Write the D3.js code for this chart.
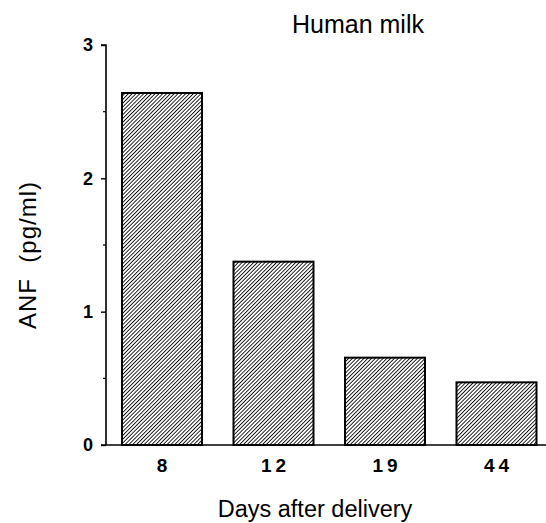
<!DOCTYPE html>
<html>
<head>
<meta charset="utf-8">
<script src="https://cdn.jsdelivr.net/npm/d3@7"></script>
<style>
  html, body { margin: 0; padding: 0; background: #fff; }
  svg { display: block; }
</style>
</head>
<body>
<svg id="chart" width="546" height="523"></svg>
<script>
const categories = ["8", "12", "19", "44"];
const values = [2.64, 1.375, 0.655, 0.47];
const majorTicks = [0, 1, 2, 3];
const minorTicks = [0.5, 1.5, 2.5];
const title = "Human milk";
const xTitle = "Days after delivery";
const yTitle = "ANF  (pg/ml)";

const svg = d3.select("#chart");
const W = 546, H = 523;
const FONT = "Liberation Sans, Arial, Helvetica, sans-serif";

const y = d3.scaleLinear().domain([0, 3]).range([445, 45]);
const x = d3.scaleBand().domain(categories).range([106, 552.5])
  .paddingInner(0.2825).paddingOuter(0.1435);

// hatch pattern
const defs = svg.append("defs");
const P = 2.7;
const pat = defs.append("pattern")
  .attr("id", "hatch").attr("patternUnits", "userSpaceOnUse")
  .attr("width", P).attr("height", P)
  .attr("patternTransform", "rotate(45)");
pat.append("rect").attr("width", P).attr("height", P).attr("fill", "#fff");
pat.append("line").attr("x1", 0).attr("y1", 0).attr("x2", 0).attr("y2", P)
  .attr("stroke", "#000").attr("stroke-width", 1.7);

// bars
svg.append("g").selectAll("rect").data(values).join("rect")
  .attr("x", (d, i) => x(categories[i]))
  .attr("width", x.bandwidth())
  .attr("y", d => y(d))
  .attr("height", d => y(0) - y(d))
  .attr("fill", "url(#hatch)")
  .attr("stroke", "#000").attr("stroke-width", 2);

// y axis
const yAxis = d3.axisLeft(y).tickValues(majorTicks).tickSize(5).tickPadding(8)
  .tickFormat(d3.format("d"));
const gy = svg.append("g").attr("transform", "translate(106,0)").call(yAxis);
gy.select(".domain").attr("d", `M-5,${y(3)}H0V${y(0)}`).attr("stroke", "#000").attr("stroke-width", 1.6);
gy.selectAll(".tick line").attr("stroke", "#000").attr("stroke-width", 1.4);
gy.selectAll(".tick text")
  .attr("font-family", FONT)
  .attr("font-weight", "bold").attr("font-size", 18).attr("fill", "#000");
svg.append("g").attr("transform", "translate(106,0)")
  .selectAll("line").data(minorTicks).join("line")
  .attr("x1", -3).attr("x2", 0)
  .attr("y1", d => y(d)).attr("y2", d => y(d))
  .attr("stroke", "#000").attr("stroke-width", 1.2);

// x axis
const xAxis = d3.axisBottom(x).tickSize(0).tickPadding(14);
const gx = svg.append("g").attr("transform", `translate(0,${y(0)})`).call(xAxis);
gx.select(".domain").attr("d", `M101,0H${W}`).attr("stroke", "#000").attr("stroke-width", 1.6);
gx.selectAll(".tick text")
  .attr("font-family", FONT)
  .attr("font-weight", "bold").attr("font-size", 19).attr("fill", "#000")
  .attr("letter-spacing", 4).attr("dx", 2);

// titles
svg.append("text").attr("x", 358).attr("y", 33).attr("text-anchor", "middle")
  .attr("font-family", FONT).attr("font-size", 25)
  .text(title);
svg.append("text").attr("x", 315).attr("y", 517).attr("text-anchor", "middle")
  .attr("font-family", FONT).attr("font-size", 23.5)
  .text(xTitle);
svg.append("text").attr("transform", "translate(36,255) rotate(-90)").attr("text-anchor", "middle")
  .attr("font-family", FONT).attr("font-size", 24).attr("letter-spacing", 1)
  .style("white-space", "pre")
  .text(yTitle);
</script>
</body>
</html>
